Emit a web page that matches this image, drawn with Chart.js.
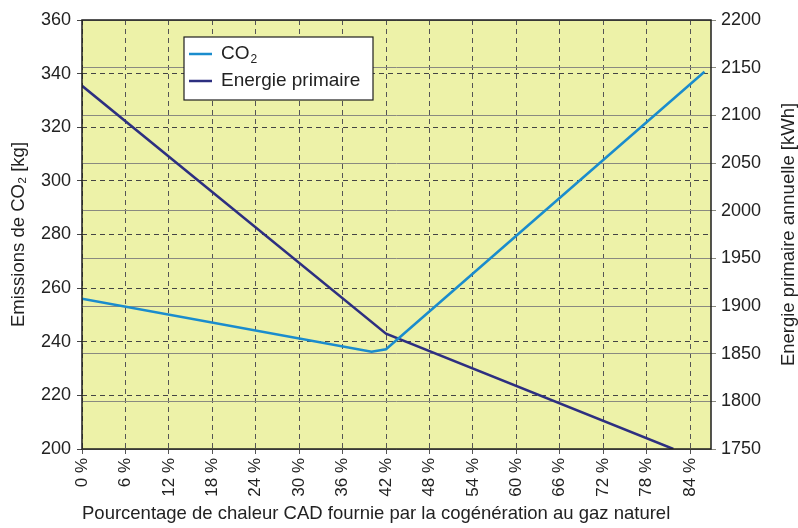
<!DOCTYPE html>
<html lang="fr">

<head>
  <meta charset="UTF-8">
  <title>CO2 et énergie primaire - cogénération</title>
  <script src="https://cdn.jsdelivr.net/npm/chart.js@4.4.4/dist/chart.umd.min.js"></script>
  <style>
    html, body { margin: 0; padding: 0; background: #ffffff; }
    canvas { display: block; }
  </style>
</head>

<body>
  <canvas id="chart-1" width="798" height="528"></canvas>
  <script>

    // values
    const co2Percent = [0, 40, 42, 86];
    const co2Values = [256, 236.3, 237.2, 340.7];

    const energyPercent = [0, 42, 81.7];
    const energyValues = [2131, 1871, 1750];

    const seriesLabels = ['CO\u2082', 'Energie primaire'];
    const seriesColors = ['#1a8ccd', '#2d2f80'];

    const xTitle = 'Pourcentage de chaleur CAD fournie par la cogénération au gaz naturel';
    const yLeftTitle = 'Emissions de CO\u2082 [kg]';
    const yRightTitle = 'Energie primaire annuelle [kWh]';

    const fontFamily = "'Liberation Sans', Arial, sans-serif";

    const toPoints = (xs, ys) => xs.map((x, i) => ({ x: x, y: ys[i] }));

    Chart.defaults.font.family = fontFamily;
    Chart.defaults.color = '#222';

    // plot background + black frame
    const framePlugin = {
      id: 'frame',
      beforeDraw(chart) {
        const { ctx, chartArea: a } = chart;
        ctx.save();
        ctx.fillStyle = '#edf2a8';
        ctx.fillRect(a.left, a.top, a.right - a.left, a.bottom - a.top);
        ctx.restore();
      },
      afterDraw(chart) {
        const { ctx, chartArea: a } = chart;
        ctx.save();
        ctx.strokeStyle = '#1e1e1e';
        ctx.lineWidth = 1.5;
        ctx.strokeRect(a.left, a.top, a.right - a.left, a.bottom - a.top);
        ctx.restore();
      }
    };

    // right axis title reads bottom-to-top like the left one
    const rightTitle = {
      id: 'rightTitle',
      afterDraw(chart) {
        const { ctx, chartArea: a } = chart;
        ctx.save();
        ctx.translate(chart.width - 9, (a.top + a.bottom) / 2);
        ctx.rotate(-Math.PI / 2);
        ctx.font = '18.5px ' + fontFamily;
        ctx.fillStyle = '#222';
        ctx.textAlign = 'center';
        ctx.textBaseline = 'middle';
        ctx.fillText(yRightTitle, 0, 0);
        ctx.restore();
      }
    };

    // legend box inside the plot, built from the datasets
    const boxLegend = {
      id: 'boxLegend',
      afterDraw(chart) {
        const ctx = chart.ctx;
        const x = 184, y = 37, w = 189, h = 63;
        ctx.save();
        ctx.fillStyle = '#ffffff';
        ctx.fillRect(x, y, w, h);
        ctx.strokeStyle = '#1e1e1e';
        ctx.lineWidth = 1.2;
        ctx.strokeRect(x, y, w, h);
        ctx.textBaseline = 'middle';
        chart.data.datasets.forEach((ds, i) => {
          const ly = y + 17 + i * 27;
          ctx.strokeStyle = ds.borderColor;
          ctx.lineWidth = 2.5;
          ctx.beginPath();
          ctx.moveTo(x + 5, ly);
          ctx.lineTo(x + 28, ly);
          ctx.stroke();
          ctx.fillStyle = '#222';
          ctx.font = '19px ' + fontFamily;
          const parts = ds.label.split('\u2082');
          ctx.fillText(parts[0], x + 37, ly);
          if (parts.length > 1) {
            const wMain = ctx.measureText(parts[0]).width;
            ctx.font = '12px ' + fontFamily;
            ctx.fillText('2', x + 38 + wMain, ly + 6);
          }
        });
        ctx.restore();
      }
    };

    const config = {
      type: 'line',
      data: {
        datasets: [
          {
            label: seriesLabels[0],
            data: toPoints(co2Percent, co2Values),
            yAxisID: 'y',
            borderColor: seriesColors[0],
            borderWidth: 2.5,
            pointRadius: 0,
            tension: 0
          },
          {
            label: seriesLabels[1],
            data: toPoints(energyPercent, energyValues),
            yAxisID: 'y1',
            borderColor: seriesColors[1],
            borderWidth: 2.5,
            pointRadius: 0,
            tension: 0
          }
        ]
      },
      options: {
        responsive: false,
        animation: false,
        layout: { padding: { top: 20, left: 0, right: 0, bottom: 0 } },
        plugins: {
          legend: { display: false },
          tooltip: { enabled: false }
        },
        scales: {
          x: {
            type: 'linear',
            min: 0,
            max: 86.9,
            afterFit: s => { s.height = 79; },
            ticks: {
              stepSize: 6,
              includeBounds: false,
              minRotation: 90,
              maxRotation: 90,
              padding: 4,
              font: { size: 17 },
              callback: v => v + ' %'
            },
            grid: { color: '#555', lineWidth: 1, tickLength: 5, tickBorderDash: [] },
            border: { display: false, dash: [5, 4] },
            title: {
              display: true,
              text: xTitle,
              align: 'start',
              font: { size: 18.5 },
              padding: { top: 0, bottom: 3 }
            }
          },
          y: {
            type: 'linear',
            position: 'left',
            min: 200,
            max: 360,
            afterFit: s => { s.width = 82; },
            ticks: { stepSize: 20, padding: 6, font: { size: 18 } },
            grid: { color: '#444', lineWidth: 1, tickLength: 5, tickBorderDash: [] },
            border: { display: false, dash: [5, 4] },
            title: {
              display: true,
              text: yLeftTitle,
              font: { size: 18.5, lineHeight: 1 },
              padding: { top: 10, bottom: 0 }
            }
          },
          y1: {
            type: 'linear',
            position: 'right',
            min: 1750,
            max: 2200,
            afterFit: s => { s.width = 87; },
            ticks: { stepSize: 50, padding: 5, font: { size: 18 }, callback: v => String(v) },
            grid: { color: '#8a8a80', lineWidth: 1, tickLength: 5 },
            border: { display: false },
            title: { display: false, text: yRightTitle }
          }
        }
      },
      plugins: [framePlugin, rightTitle, boxLegend]
    };

    const chart = new Chart(document.getElementById('chart-1'), config);
  </script>
</body>

</html>
